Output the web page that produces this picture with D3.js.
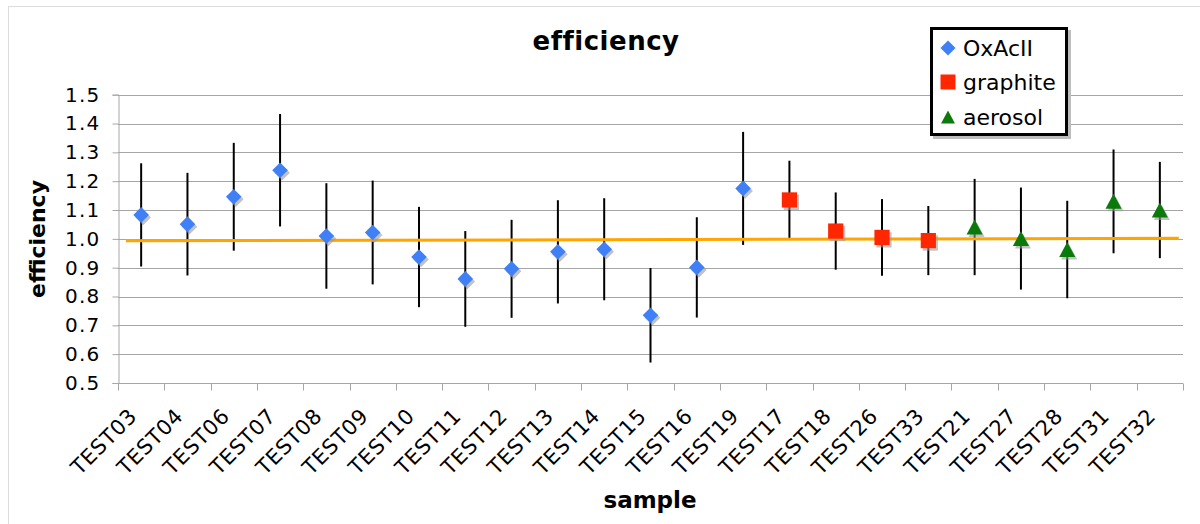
<!DOCTYPE html>
<html>
<head>
<meta charset="utf-8">
<script src="https://cdn.jsdelivr.net/npm/d3@7/dist/d3.min.js"></script>
<style>
  html, body { margin: 0; padding: 0; background: #fff; }
  svg { display: block; }
  text { font-family: "DejaVu Sans", Verdana, sans-serif; fill: #000; }
</style>
</head>
<body>
<svg id="chart" width="1200" height="524"></svg>
<script>
// Samples along the category axis, in plotting order
const categories = ["TEST03","TEST04","TEST06","TEST07","TEST08","TEST09","TEST10","TEST11","TEST12","TEST13","TEST14","TEST15","TEST16","TEST19","TEST17","TEST18","TEST26","TEST33","TEST21","TEST27","TEST28","TEST31","TEST32"];

// OxAcII standards
const oxacSamples = ["TEST03","TEST04","TEST06","TEST07","TEST08","TEST09","TEST10","TEST11","TEST12","TEST13","TEST14","TEST15","TEST16","TEST19"];
const oxacValues  = [1.083, 1.051, 1.146, 1.238, 1.010, 1.022, 0.937, 0.861, 0.896, 0.955, 0.964, 0.735, 0.901, 1.175];
const oxacErrors  = [0.179, 0.178, 0.187, 0.195, 0.183, 0.180, 0.174, 0.166, 0.170, 0.179, 0.177, 0.164, 0.174, 0.196];

// graphite samples
const graphiteSamples = ["TEST17","TEST18","TEST26","TEST33"];
const graphiteValues  = [1.135, 1.027, 1.005, 0.994];
const graphiteErrors  = [0.136, 0.134, 0.133, 0.120];

// aerosol samples
const aerosolSamples = ["TEST21","TEST27","TEST28","TEST31","TEST32"];
const aerosolValues  = [1.041, 1.001, 0.963, 1.130, 1.100];
const aerosolErrors  = [0.167, 0.177, 0.169, 0.180, 0.167];

// Linear fit across all samples: positions in category units (0 = left edge), and efficiency at each end
const trendPos    = [0.17, 22.91];
const trendValues = [0.993, 1.002];

const yTicks = [0.5, 0.6, 0.7, 0.8, 0.9, 1.0, 1.1, 1.2, 1.3, 1.4, 1.5];
const seriesNames = ["OxAcII", "graphite", "aerosol"];
const chartTitle = "efficiency";
const xTitle = "sample";
const yTitle = "efficiency";

// ---- layout & styling ----
const W = 1200, H = 524;
const plot = { left: 118, right: 1183, top: 94.7, bottom: 383 };
const colors = { OxAcII: "#3f80f6", graphite: "#ff2600", aerosol: "#0a7a0a" };

// custom marker shapes sized in pixels
const shapes = {
  OxAcII:   { draw(ctx, s) { ctx.moveTo(0, -s); ctx.lineTo(s, 0); ctx.lineTo(0, s); ctx.lineTo(-s, 0); ctx.closePath(); } },
  graphite: { draw(ctx, s) { ctx.moveTo(-s, -s); ctx.lineTo(s, -s); ctx.lineTo(s, s); ctx.lineTo(-s, s); ctx.closePath(); } },
  aerosol:  { draw(ctx, s) { ctx.moveTo(0, -s); ctx.lineTo(s * 1.07, s); ctx.lineTo(-s * 1.07, s); ctx.closePath(); } }
};
const markerSize = { OxAcII: 7.8, graphite: 7.6, aerosol: 7.5 };

const svg = d3.select("#chart");

// light frame around the chart area
svg.append("rect")
  .attr("x", 8.5).attr("y", 6.5).attr("width", W).attr("height", H)
  .attr("fill", "none").attr("stroke", "#dcdcdc").attr("stroke-width", 1);

const x = d3.scaleBand().domain(categories).range([plot.left, plot.right]).padding(0);
const xPos = d3.scaleLinear().domain([0, categories.length]).range([plot.left, plot.right]);
const y = d3.scaleLinear().domain([0.5, 1.5]).range([plot.bottom, plot.top]);

// horizontal gridlines
svg.append("g")
  .selectAll("line").data(yTicks.filter(d => d > 0.5)).join("line")
  .attr("x1", plot.left).attr("x2", plot.right)
  .attr("y1", d => Math.round(y(d)) + 0.5).attr("y2", d => Math.round(y(d)) + 0.5)
  .attr("stroke", "#a6a6a6").attr("stroke-width", 1);

// y axis
const yAxis = svg.append("g")
  .attr("transform", `translate(${plot.left + 0.5},0)`)
  .call(d3.axisLeft(y).tickValues(yTicks).tickFormat(d3.format(".1f")).tickSize(6).tickPadding(12));
yAxis.select(".domain").attr("stroke", "#a6a6a6");
yAxis.selectAll(".tick line").attr("stroke", "#a6a6a6");
yAxis.selectAll(".tick text")
  .attr("font-size", 20).attr("font-family", "DejaVu Sans").attr("fill", "#000")
  .attr("letter-spacing", 1.2);

// x axis: ticks sit on category boundaries
const xAxis = svg.append("g")
  .attr("transform", `translate(0,${Math.round(plot.bottom) + 0.5})`);
xAxis.append("line")
  .attr("x1", plot.left).attr("x2", plot.right)
  .attr("stroke", "#a6a6a6");
xAxis.selectAll("line.tick").data(d3.range(categories.length + 1)).join("line")
  .attr("class", "tick")
  .attr("x1", i => Math.round(xPos(i)) + 0.5).attr("x2", i => Math.round(xPos(i)) + 0.5)
  .attr("y1", 0).attr("y2", 7)
  .attr("stroke", "#a6a6a6");
xAxis.selectAll("text").data(categories).join("text")
  .attr("transform", d => `translate(${x(d) + x.bandwidth() / 2 - 3},${34}) rotate(-45)`)
  .attr("text-anchor", "end")
  .attr("font-size", 21)
  .attr("letter-spacing", 0.6)
  .text(d => d);

// gather every point with its series
const points = [];
function addSeries(name, samples, values, errors) {
  samples.forEach((s, i) => points.push({ series: name, sample: s, value: values[i], err: errors[i] }));
}
addSeries("OxAcII", oxacSamples, oxacValues, oxacErrors);
addSeries("graphite", graphiteSamples, graphiteValues, graphiteErrors);
addSeries("aerosol", aerosolSamples, aerosolValues, aerosolErrors);

const cx = d => x(d.sample) + x.bandwidth() / 2;

// error bars
svg.append("g").selectAll("line").data(points).join("line")
  .attr("x1", cx).attr("x2", cx)
  .attr("y1", d => y(d.value + d.err)).attr("y2", d => y(d.value - d.err))
  .attr("stroke", "#000").attr("stroke-width", 2);

// fitted line
svg.append("line")
  .attr("x1", xPos(trendPos[0])).attr("x2", xPos(trendPos[1]))
  .attr("y1", y(trendValues[0])).attr("y2", y(trendValues[1]))
  .attr("stroke", "#ffa500").attr("stroke-width", 3);

// markers with soft drop shadows
const sym = name => d3.symbol().type(shapes[name]).size(markerSize[name]);
const mk = svg.append("g");
mk.selectAll("path.shadow").data(points).join("path")
  .attr("class", "shadow")
  .attr("d", d => sym(d.series)())
  .attr("transform", d => `translate(${cx(d) + 2},${y(d.value) + 2.5})`)
  .attr("fill", "#9a9a9a").attr("opacity", 0.6);
mk.selectAll("path.mark").data(points).join("path")
  .attr("class", "mark")
  .attr("d", d => sym(d.series)())
  .attr("transform", d => `translate(${cx(d)},${y(d.value)})`)
  .attr("fill", d => colors[d.series]);

// titles
svg.append("text")
  .attr("x", 606).attr("y", 50)
  .attr("text-anchor", "middle").attr("font-size", 26).attr("font-weight", "bold")
  .attr("letter-spacing", 0.5)
  .text(chartTitle);
svg.append("text")
  .attr("x", 650).attr("y", 508)
  .attr("text-anchor", "middle").attr("font-size", 23).attr("font-weight", "bold")
  .text(xTitle);
svg.append("text")
  .attr("transform", "translate(45,239) rotate(-90)")
  .attr("text-anchor", "middle").attr("font-size", 22).attr("font-weight", "bold")
  .text(yTitle);

// legend
const lg = svg.append("g").attr("transform", "translate(930,27)");
lg.append("rect").attr("x", 3).attr("y", 3).attr("width", 138).attr("height", 109).attr("fill", "#bdbdbd");
lg.append("rect").attr("x", 1.5).attr("y", 1.5).attr("width", 135).attr("height", 106)
  .attr("fill", "#fff").attr("stroke", "#000").attr("stroke-width", 3);
const legendRows = [21, 55, 90];
const items = lg.selectAll("g.item").data(seriesNames).join("g")
  .attr("class", "item")
  .attr("transform", (d, i) => `translate(0,${legendRows[i]})`);
items.append("path")
  .attr("d", d => d3.symbol().type(shapes[d]).size(d === "aerosol" ? 6.5 : 7.5)())
  .attr("transform", "translate(18,0)")
  .attr("fill", d => colors[d]);
items.append("text")
  .attr("x", 33).attr("y", 8)
  .attr("font-size", 22)
  .text(d => d);
</script>
</body>
</html>
